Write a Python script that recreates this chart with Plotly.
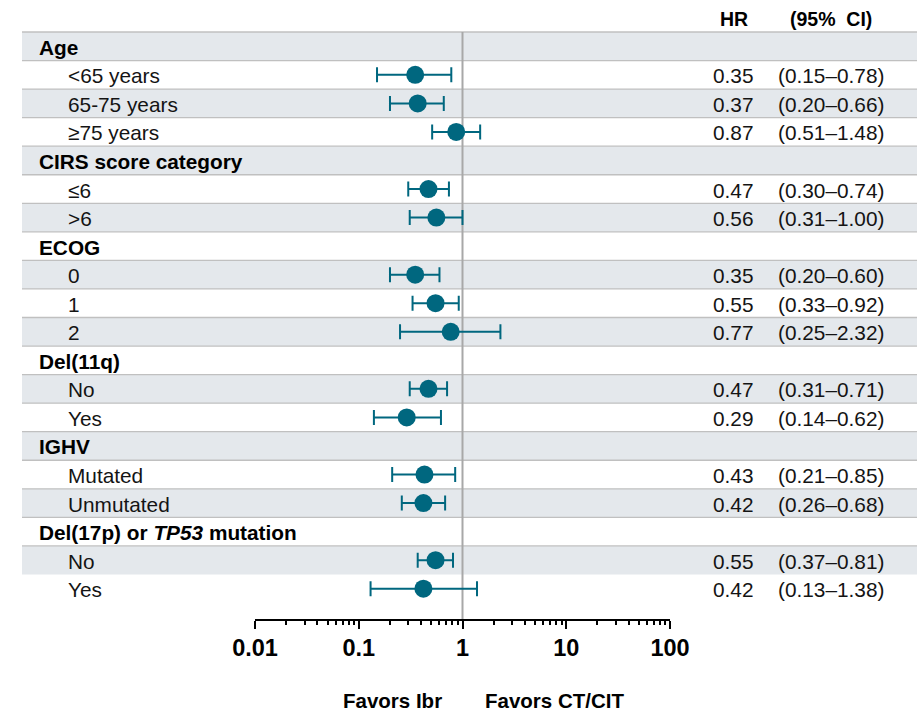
import plotly.graph_objects as go
import math

# ---------------- data ----------------
labels = ["Age", "<65 years", "65-75 years", "≥75 years",
          "CIRS score category", "≤6", ">6",
          "ECOG", "0", "1", "2",
          "Del(11q)", "No", "Yes",
          "IGHV", "Mutated", "Unmutated",
          "Del(17p) or <i>TP53</i> mutation", "No", "Yes"]
is_header = [True, False, False, False,
             True, False, False,
             True, False, False, False,
             True, False, False,
             True, False, False,
             True, False, False]
hr = [None, 0.35, 0.37, 0.87,
      None, 0.47, 0.56,
      None, 0.35, 0.55, 0.77,
      None, 0.47, 0.29,
      None, 0.43, 0.42,
      None, 0.55, 0.42]
ci_lo = [None, 0.15, 0.20, 0.51,
         None, 0.30, 0.31,
         None, 0.20, 0.33, 0.25,
         None, 0.31, 0.14,
         None, 0.21, 0.26,
         None, 0.37, 0.13]
ci_hi = [None, 0.78, 0.66, 1.48,
         None, 0.74, 1.00,
         None, 0.60, 0.92, 2.32,
         None, 0.71, 0.62,
         None, 0.85, 0.68,
         None, 0.81, 1.38]
tick_vals = [0.01, 0.1, 1, 10, 100]
tick_text = ["0.01", "0.1", "1", "10", "100"]
favor_left = "Favors Ibr"
favor_right = "Favors CT/CIT"
col_headers = ["HR", "(95%&nbsp; CI)"]

# ---------------- styling ----------------
W, H = 917, 713
FONT = "Liberation Sans, Arial, sans-serif"
TEAL = "#00677f"
BAND = "#e4e8ec"
RULE = "#c0c0c0"
TXT = "#141414"
ROW_TOP = 32.0
ROW_H = 28.55
AXIS_Y = 619.0
X_LEFT, X_RIGHT = 255.0, 670.0
TABLE_LEFT = 22.0
FS = 20.8

def pix_to_row(p):
    return (p - ROW_TOP) / ROW_H - 0.5

n = len(labels)
rows = list(range(n))
pt_rows = [i for i in rows if hr[i] is not None]

fig = go.Figure()

fig.add_trace(go.Scatter(
    x=[hr[i] for i in pt_rows],
    y=pt_rows,
    mode="markers",
    marker=dict(color=TEAL, size=18),
    error_x=dict(type="data", symmetric=False,
                 array=[ci_hi[i] - hr[i] for i in pt_rows],
                 arrayminus=[hr[i] - ci_lo[i] for i in pt_rows],
                 color=TEAL, thickness=2, width=7.5),
    showlegend=False, hoverinfo="skip",
))

shapes = []
# alternating bands
for i in rows:
    if i % 2 == 0:
        shapes.append(dict(type="rect", xref="paper", yref="y",
                           x0=TABLE_LEFT / W, x1=1, y0=i - 0.5, y1=i + 0.5,
                           fillcolor=BAND, line=dict(width=0), layer="below"))
# row rules
for i in rows[:-1]:
    shapes.append(dict(type="line", xref="paper", yref="y",
                       x0=TABLE_LEFT / W, x1=1, y0=i - 0.5, y1=i - 0.5,
                       line=dict(color=RULE, width=1.3), layer="below"))
# reference line at HR = 1
shapes.append(dict(type="line", xref="x", yref="y",
                   x0=1, x1=1, y0=-0.5, y1=pix_to_row(AXIS_Y),
                   line=dict(color="#a8a8a8", width=2), layer="below"))

annotations = []
for i in rows:
    if is_header[i]:
        annotations.append(dict(x=37 / W, xref="paper", y=i, yref="y",
                                text="<b>" + labels[i] + "</b>", showarrow=False,
                                xanchor="left", yanchor="middle", yshift=-1,
                                font=dict(family=FONT, size=FS, color="black")))
    else:
        annotations.append(dict(x=66 / W, xref="paper", y=i, yref="y",
                                text=labels[i], showarrow=False,
                                xanchor="left", yanchor="middle", yshift=-1,
                                font=dict(family=FONT, size=FS, color=TXT)))
        annotations.append(dict(x=733 / W, xref="paper", y=i, yref="y",
                                text=f"{hr[i]:.2f}", showarrow=False,
                                xanchor="center", yanchor="middle", yshift=-1,
                                font=dict(family=FONT, size=FS, color=TXT)))
        annotations.append(dict(x=831 / W, xref="paper", y=i, yref="y",
                                text=f"({ci_lo[i]:.2f}–{ci_hi[i]:.2f})", showarrow=False,
                                xanchor="center", yanchor="middle", yshift=-1,
                                font=dict(family=FONT, size=FS, color=TXT)))

for xc, txt in zip([734, 831], col_headers):
    annotations.append(dict(x=xc / W, xref="paper", y=1 - 19.5 / H, yref="paper",
                            text="<b>" + txt + "</b>", showarrow=False,
                            xanchor="center", yanchor="middle",
                            font=dict(family=FONT, size=19.5, color="black")))

annotations.append(dict(x=0, xref="x", y=1 - 700 / H, yref="paper",
                        text="<b>" + favor_left + "</b>", showarrow=False,
                        xanchor="right", yanchor="middle", xshift=-19,
                        font=dict(family=FONT, size=20.5, color="black")))
annotations.append(dict(x=0, xref="x", y=1 - 700 / H, yref="paper",
                        text="<b>" + favor_right + "</b>", showarrow=False,
                        xanchor="left", yanchor="middle", xshift=20,
                        font=dict(family=FONT, size=20.5, color="black")))

minor_vals = [m * 10 ** e for e in range(-2, 2) for m in range(2, 10)]

fig.update_layout(
    width=W, height=H,
    margin=dict(l=0, r=0, t=0, b=0, pad=0, autoexpand=False),
    paper_bgcolor="white", plot_bgcolor="rgba(0,0,0,0)",
    shapes=shapes, annotations=annotations,
    xaxis=dict(type="log", range=[-2, 2],
               domain=[X_LEFT / W, X_RIGHT / W],
               tickvals=tick_vals, ticktext=tick_text,
               ticks="outside", ticklen=8, tickwidth=2, tickcolor="black",
               minor=dict(tickvals=minor_vals, ticks="outside", ticklen=4,
                          tickwidth=1.5, tickcolor="black", showgrid=False),
               showline=True, linecolor="black", linewidth=2,
               showgrid=False, zeroline=False, automargin=False,
               tickfont=dict(family=FONT, size=23.5, color="black", weight="bold"),
               ticklabelstandoff=-1),
    yaxis=dict(range=[pix_to_row(AXIS_Y), pix_to_row(0)],
               domain=[1 - AXIS_Y / H, 1], automargin=False,
               showticklabels=False, showgrid=False, zeroline=False,
               showline=False, ticks=""),
)

fig.write_html("out.html")
